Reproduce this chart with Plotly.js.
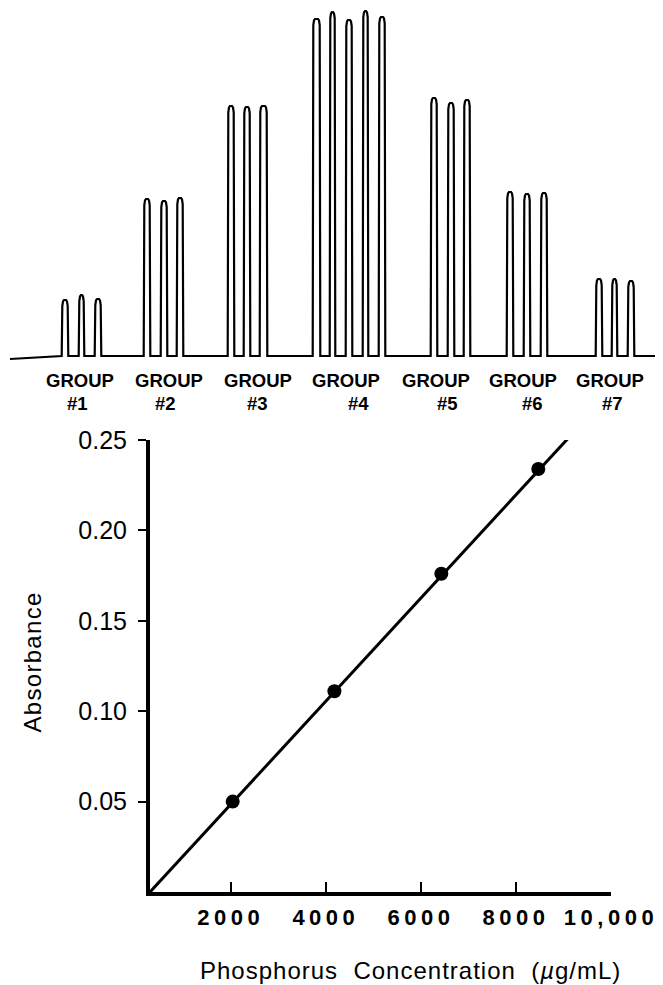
<!DOCTYPE html>
<html><head><meta charset="utf-8">
<script src="https://cdn.plot.ly/plotly-3.0.1.min.js"></script>
<style>
html,body{margin:0;padding:0;background:#fff;}
#chart{width:663px;height:985px;}
.xtick text{letter-spacing:4.5px;}
.annotation[data-index="14"] text{letter-spacing:1px;}
.annotation[data-index="15"] text{letter-spacing:1.3px;}
</style></head><body><div id="chart"></div>
<script>
// ---------- Top panel: recorder trace, 7 groups of replicate injections ----------
const groupLabels = ['#1', '#2', '#3', '#4', '#5', '#6', '#7'];
const peakGroup  = [1,1,1, 2,2,2, 3,3,3, 4,4,4,4,4, 5,5,5, 6,6,6, 7,7,7];
const peakStart  = [62,79,95, 144,161,177, 228,244,260, 313,330,346,363,379, 431,448,464, 507,524,541, 596,612,628];
const peakEnd    = [68,84,101, 150,167,183, 234,250,267, 320,335,352,368,385, 437,454,470, 513,530,547, 602,617,634];
const peakHeight = [56,61,57, 157,155,158, 250,249,250, 337,344,336,345,339, 258,253,256, 164,162,163, 77,77,75];
const baselineX  = [10, 55, 655];
const baselineY  = [-3, 0, 0];

// ---------- Bottom panel: calibration ----------
const concentration = [2040, 4180, 6430, 8470];      // µg/mL
const absorbance    = [0.050, 0.111, 0.176, 0.234];
const fitX = [300, 9100];
const fitY = [0, 0.251];
const xTickVals = [2000, 4000, 6000, 8000, 10000];
const xTickText = ['2000', '4000', '6000', '8000', '10,000'];
const yTickVals = [0.05, 0.10, 0.15, 0.20, 0.25];
const yTickText = ['0.05', '0.10', '0.15', '0.20', '0.25'];

// label placement (layout only)
const groupLabelX = [80, 169, 258, 346, 436, 523, 610];
const numLabelX   = [77, 165, 257, 358, 447, 532, 612];

// build recorder trace path from peak table
const tx = [baselineX[0], baselineX[1]];
const ty = [baselineY[0], baselineY[1]];
for (let i = 0; i < peakStart.length; i++) {
  const s = peakStart[i], e = peakEnd[i], h = peakHeight[i];
  tx.push(s - 0.3, s + 0.3, s + 1, s + 2, e - 2, e - 1, e - 0.3, e + 0.3);
  ty.push(0, h - 6, h - 1.5, h, h, h - 1.5, h - 6, 0);
}
tx.push(baselineX[2]); ty.push(baselineY[2]);

const W = 663, H = 985;
const traces = [
  {x: tx, y: ty, xaxis: 'x2', yaxis: 'y2', mode: 'lines', line: {color: '#000', width: 2.2}, hoverinfo: 'skip'},
  {x: fitX, y: fitY, mode: 'lines', line: {color: '#000', width: 3}, cliponaxis: false},
  {x: concentration, y: absorbance, mode: 'markers', marker: {color: '#000', size: 14}, cliponaxis: false}
];

const labFont = {family: 'Liberation Sans, Arial', size: 18.5, weight: 'bold', color: '#000'};
const annotations = [];
groupLabelX.forEach((gx) => annotations.push({xref: 'x2', yref: 'paper', x: gx, y: 1 - 380 / H, text: 'GROUP', showarrow: false, font: labFont, xanchor: 'center', yanchor: 'middle'}));
numLabelX.forEach((nx, i) => annotations.push({xref: 'x2', yref: 'paper', x: nx, y: 1 - 404 / H, text: groupLabels[i], showarrow: false, font: labFont, xanchor: 'center', yanchor: 'middle'}));
annotations.push({xref: 'paper', yref: 'paper', x: 410 / W, y: 1 - 970 / H, text: 'Phosphorus\u00a0 Concentration\u00a0 (<i>µ</i>g/mL)', showarrow: false,
  font: {family: 'Liberation Sans, Arial', size: 24, color: '#000'}, xanchor: 'center', yanchor: 'middle'});
annotations.push({xref: 'paper', yref: 'paper', x: 32 / W, y: 1 - 662 / H, text: 'Absorbance', textangle: -90, showarrow: false,
  font: {family: 'Liberation Sans, Arial', size: 24, color: '#000'}, xanchor: 'center', yanchor: 'middle'});

const layout = {
  width: W, height: H, margin: {l: 0, r: 0, t: 0, b: 0},
  paper_bgcolor: '#fff', plot_bgcolor: 'rgba(0,0,0,0)', showlegend: false,
  xaxis: {domain: [150 / W, 611 / W], range: [300, 10000], anchor: 'y',
    showline: true, linewidth: 4, linecolor: '#000', showgrid: false, zeroline: false,
    ticks: 'inside', ticklen: 10, tickwidth: 2, tickcolor: '#000',
    tickmode: 'array', tickvals: xTickVals, ticktext: xTickText, ticklabelstandoff: 3,
    tickfont: {family: 'Liberation Sans, Arial', size: 22, weight: 'bold', color: '#000'}},
  yaxis: {domain: [1 - 892 / H, 1 - 440 / H], range: [0, 0.25], anchor: 'x',
    showline: true, linewidth: 4, linecolor: '#000', showgrid: false, zeroline: false,
    ticks: 'outside', ticklen: 8, tickwidth: 2, tickcolor: '#000',
    tickmode: 'array', tickvals: yTickVals, ticktext: yTickText, ticklabelstandoff: 6,
    tickfont: {family: 'Liberation Sans, Arial', size: 25, color: '#000'}},
  xaxis2: {domain: [0, 1], range: [0, 663], anchor: 'y2', visible: false},
  yaxis2: {domain: [1 - 362 / H, 1], range: [-6, 356], anchor: 'x2', visible: false},
  annotations: annotations
};
Plotly.newPlot('chart', traces, layout, {staticPlot: true, displayModeBar: false});
</script></body></html>
